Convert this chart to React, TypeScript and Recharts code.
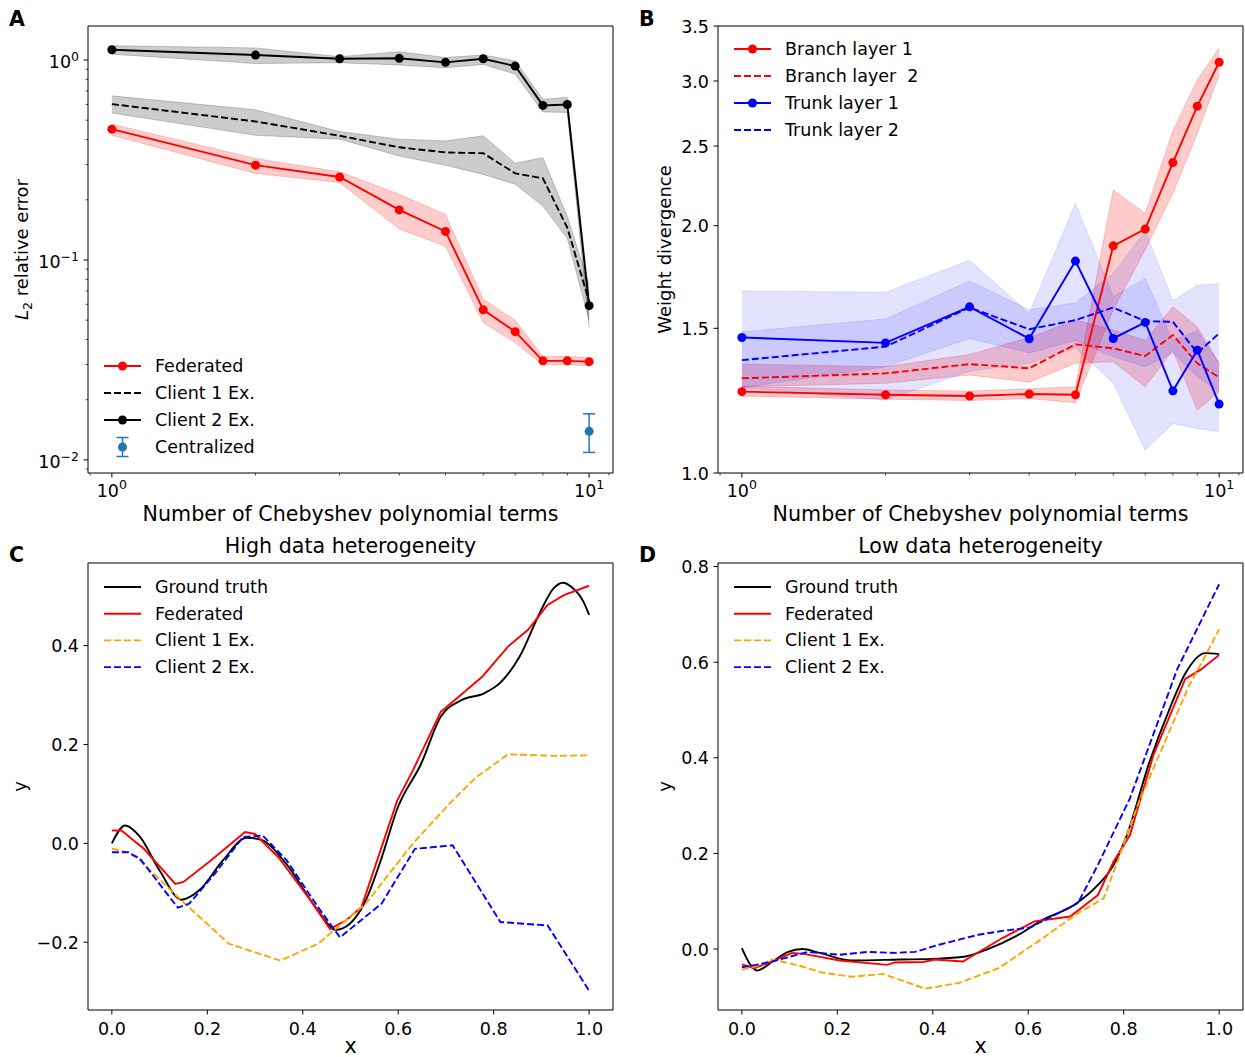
import React from 'react';
import {
  ComposedChart,
  LineChart,
  Line,
  Area,
  XAxis,
  YAxis,
  Scatter,
  ErrorBar,
  Legend,
  ReferenceLine,
} from 'recharts';

const FONT = '"DejaVu Sans", Verdana, sans-serif';
const TICK_FS = 17.5;
const LABEL_FS = 20.6;
const YLABEL_FS = 18;

// ---------------- Panel A: L2 relative error ----------------
const nTerms = [1, 2, 3, 4, 5, 6, 7, 8, 9, 10];
const fedErr = [0.451, 0.298, 0.26, 0.178, 0.139, 0.0563, 0.0438, 0.0313, 0.0313, 0.031];
const fedErrLo = [0.42, 0.271, 0.244, 0.143, 0.117, 0.0486, 0.0385, 0.0299, 0.0299, 0.0296];
const fedErrHi = [0.478, 0.322, 0.276, 0.213, 0.169, 0.0636, 0.0499, 0.0329, 0.0329, 0.0325];
const c1Err = [0.602, 0.493, 0.418, 0.366, 0.345, 0.342, 0.271, 0.256, 0.145, 0.062];
const c1ErrLo = [0.543, 0.42, 0.402, 0.331, 0.298, 0.268, 0.239, 0.186, 0.128, 0.05];
const c1ErrHi = [0.662, 0.564, 0.439, 0.402, 0.394, 0.418, 0.305, 0.325, 0.165, 0.075];
const c2Err = [1.126, 1.059, 1.015, 1.02, 0.974, 1.015, 0.933, 0.593, 0.599, 0.0591];
const c2ErrLo = [1.07, 0.96, 0.97, 0.944, 0.915, 0.95, 0.85, 0.55, 0.547, 0.046];
const c2ErrHi = [1.18, 1.15, 1.04, 1.1, 1.03, 1.06, 0.99, 0.637, 0.65, 0.066];
const cenN = [10];
const cenVal = [0.0139];
const cenLo = [0.0109];
const cenHi = [0.017];

// ---------------- Panel B: weight divergence ----------------
const br1 = [1.256, 1.245, 1.241, 1.248, 1.245, 1.89, 1.981, 2.387, 2.796, 3.162];
const br1Lo = [1.24, 1.23, 1.225, 1.232, 1.218, 1.58, 1.87, 2.19, 2.59, 3.05];
const br1Hi = [1.275, 1.262, 1.258, 1.266, 1.273, 2.21, 2.07, 2.61, 3.01, 3.29];
const br2 = [1.304, 1.322, 1.357, 1.341, 1.434, 1.418, 1.388, 1.472, 1.36, 1.307];
const br2Lo = [1.273, 1.286, 1.316, 1.29, 1.36, 1.366, 1.273, 1.411, 1.193, 1.256];
const br2Hi = [1.357, 1.347, 1.394, 1.462, 1.535, 1.493, 1.45, 1.593, 1.507, 1.36];
const tr1 = [1.462, 1.44, 1.593, 1.457, 1.811, 1.458, 1.525, 1.259, 1.411, 1.213];
const tr1Lo = [1.27, 1.227, 1.33, 1.36, 1.42, 1.286, 1.066, 1.149, 1.133, 1.123];
const tr1Hi = [1.665, 1.66, 1.815, 1.564, 2.13, 1.64, 1.725, 1.45, 1.49, 1.36];
const tr2 = [1.372, 1.425, 1.59, 1.496, 1.535, 1.59, 1.53, 1.528, 1.4, 1.479];
const tr2Lo = [1.27, 1.347, 1.458, 1.4, 1.45, 1.385, 1.347, 1.4, 1.31, 1.256];
const tr2Hi = [1.485, 1.54, 1.713, 1.58, 1.61, 1.75, 1.97, 1.62, 1.693, 1.7];

// ---------------- Panel C: high heterogeneity ----------------
const gtCX = [0, 0.028, 0.059, 0.1, 0.146, 0.183, 0.233, 0.283, 0.316, 0.365, 0.432, 0.469, 0.498, 0.532, 0.565, 0.598, 0.648, 0.689, 0.731, 0.781, 0.814, 0.855, 0.897, 0.925, 0.945, 0.965, 0.988, 1.0];
const gtCY = [0, 0.036, 0.013, -0.055, -0.114, -0.095, -0.034, 0.0115, 0.006, -0.041, -0.136, -0.175, -0.163, -0.115, -0.03, 0.07, 0.161, 0.256, 0.289, 0.304, 0.325, 0.379, 0.467, 0.515, 0.527, 0.517, 0.489, 0.462];
const fedCX = [0, 0.02, 0.067, 0.133, 0.15, 0.208, 0.279, 0.3, 0.349, 0.416, 0.457, 0.49, 0.523, 0.598, 0.631, 0.689, 0.731, 0.776, 0.83, 0.872, 0.913, 0.947, 1.0];
const fedCY = [0.026, 0.026, -0.011, -0.082, -0.078, -0.034, 0.023, 0.019, -0.028, -0.115, -0.173, -0.156, -0.129, 0.087, 0.148, 0.266, 0.3, 0.337, 0.398, 0.432, 0.482, 0.502, 0.521];
const c1CX = [0, 0.034, 0.055, 0.142, 0.245, 0.353, 0.432, 0.49, 0.532, 0.631, 0.714, 0.764, 0.83, 0.93, 1.0];
const c1CY = [-0.011, -0.018, -0.031, -0.112, -0.203, -0.237, -0.203, -0.156, -0.122, 0.0, 0.087, 0.134, 0.18, 0.177, 0.178];
const c2CX = [0, 0.034, 0.059, 0.138, 0.162, 0.216, 0.275, 0.316, 0.366, 0.432, 0.478, 0.565, 0.635, 0.714, 0.814, 0.913, 1.0];
const c2CY = [-0.018, -0.018, -0.031, -0.13, -0.122, -0.061, 0.013, 0.016, -0.034, -0.129, -0.19, -0.122, -0.011, -0.004, -0.159, -0.166, -0.298];

// ---------------- Panel D: low heterogeneity ----------------
const gtDX = [0, 0.018, 0.032, 0.064, 0.097, 0.126, 0.163, 0.23, 0.33, 0.413, 0.471, 0.513, 0.58, 0.63, 0.696, 0.746, 0.779, 0.804, 0.854, 0.896, 0.93, 0.971, 1.0];
const gtDY = [0.002, -0.033, -0.045, -0.026, -0.006, 0.0, -0.008, -0.024, -0.022, -0.02, -0.015, -0.001, 0.03, 0.061, 0.092, 0.134, 0.176, 0.231, 0.391, 0.502, 0.578, 0.619, 0.617];
const fedDX = [0, 0.026, 0.064, 0.105, 0.13, 0.205, 0.305, 0.32, 0.38, 0.405, 0.463, 0.546, 0.613, 0.688, 0.746, 0.779, 0.813, 0.862, 0.929, 0.962, 1.0];
const fedDY = [-0.032, -0.04, -0.026, -0.008, -0.01, -0.024, -0.033, -0.028, -0.027, -0.022, -0.026, 0.023, 0.058, 0.068, 0.113, 0.183, 0.238, 0.405, 0.565, 0.585, 0.615];
const c1DX = [0, 0.03, 0.064, 0.114, 0.172, 0.23, 0.296, 0.33, 0.384, 0.455, 0.538, 0.621, 0.704, 0.758, 0.787, 0.829, 0.862, 0.937, 0.971, 1.0];
const c1DY = [-0.043, -0.036, -0.022, -0.033, -0.05, -0.058, -0.052, -0.064, -0.083, -0.071, -0.04, 0.016, 0.075, 0.106, 0.183, 0.3, 0.377, 0.551, 0.613, 0.669];
const c2DX = [0, 0.03, 0.064, 0.138, 0.205, 0.263, 0.321, 0.363, 0.413, 0.496, 0.546, 0.604, 0.704, 0.746, 0.813, 0.912, 1.0];
const c2DY = [-0.038, -0.033, -0.026, -0.006, -0.012, -0.006, -0.008, -0.006, 0.009, 0.03, 0.038, 0.045, 0.096, 0.176, 0.315, 0.585, 0.763];

// ---------------- Ticks ----------------
const logXTicks = [0.9, 1, 2, 3, 4, 5, 6, 7, 8, 9, 10, 11];
const aYTicks = [0.009, 0.01, 0.02, 0.03, 0.04, 0.05, 0.06, 0.07, 0.08, 0.09, 0.1, 0.2, 0.3, 0.4, 0.5, 0.6, 0.7, 0.8, 0.9, 1];
const bYTicks = [1, 1.5, 2, 2.5, 3, 3.5];
const linXTicks = [0, 0.2, 0.4, 0.6, 0.8, 1.0];
const cYTicks = [-0.2, 0, 0.2, 0.4];
const dYTicks = [0, 0.2, 0.4, 0.6, 0.8];

// ---------------- Domains ----------------
const logXDomain = [Math.pow(10, -0.05), Math.pow(10, 1.05)];
const aYDomain = [0.0086, 1.48];
const bYDomain = [1, 3.5];
const linXDomain = [-0.05, 1.05];
const cYDomain = [-0.337, 0.567];
const dYDomain = [-0.1275, 0.8075];

// ---------------- Rows ----------------
const aRows = nTerms.map((n, i) => ({
  n,
  fed: fedErr[i],
  fedBand: [fedErrLo[i], fedErrHi[i]],
  c1: c1Err[i],
  c1Band: [c1ErrLo[i], c1ErrHi[i]],
  c2: c2Err[i],
  c2Band: [c2ErrLo[i], c2ErrHi[i]],
}));
const cenRows = cenN.map((n, i) => ({ n, c: cenVal[i], err: [cenVal[i] - cenLo[i], cenHi[i] - cenVal[i]] }));

const bRows = nTerms.map((n, i) => ({
  n,
  br1: br1[i],
  br1Band: [br1Lo[i], br1Hi[i]],
  br2: br2[i],
  br2Band: [br2Lo[i], br2Hi[i]],
  tr1: tr1[i],
  tr1Band: [tr1Lo[i], tr1Hi[i]],
  tr2: tr2[i],
  tr2Band: [tr2Lo[i], tr2Hi[i]],
}));

const zip = (xs: number[], ys: number[]) => xs.map((x, i) => ({ x, y: ys[i] }));

// ---------------- Tick renderers ----------------
const isDecade = (v: number) => {
  const e = Math.log10(v);
  return Math.abs(e - Math.round(e)) < 1e-6;
};
const sup = (e: number) => (e < 0 ? '\u2212' : '') + Math.abs(e);
const fmt1 = (v: number) => (v < -1e-9 ? '\u2212' : '') + Math.abs(v).toFixed(1);

function LogXTick(props: any) {
  const { x, y, payload } = props;
  const v = payload.value;
  const major = isDecade(v);
  return (
    <g>
      <line x1={x} x2={x} y1={y} y2={y + (major ? 4.5 : 2.5)} stroke="#000" strokeWidth={major ? 1 : 0.7} />
      {major && (
        <text x={x} y={y + 24} textAnchor="middle" fontFamily={FONT} fontSize={TICK_FS} fill="#000">
          10
          <tspan dy={-8} fontSize={12.5}>
            {sup(Math.round(Math.log10(v)))}
          </tspan>
        </text>
      )}
    </g>
  );
}

function LogYTick(props: any) {
  const { x, y, payload } = props;
  const v = payload.value;
  const major = isDecade(v);
  return (
    <g>
      <line x1={x} x2={x - (major ? 4.5 : 2.5)} y1={y} y2={y} stroke="#000" strokeWidth={major ? 1 : 0.7} />
      {major && (
        <text x={x - 9} y={y + 8} textAnchor="end" fontFamily={FONT} fontSize={TICK_FS} fill="#000">
          10
          <tspan dy={-7} fontSize={12.5}>
            {sup(Math.round(Math.log10(v)))}
          </tspan>
        </text>
      )}
    </g>
  );
}

function LinXTick(props: any) {
  const { x, y, payload } = props;
  return (
    <g>
      <line x1={x} x2={x} y1={y} y2={y + 4.5} stroke="#000" strokeWidth={1} />
      <text x={x} y={y + 25} textAnchor="middle" fontFamily={FONT} fontSize={TICK_FS} fill="#000">
        {fmt1(payload.value)}
      </text>
    </g>
  );
}

function LinYTick(props: any) {
  const { x, y, payload } = props;
  return (
    <g>
      <line x1={x} x2={x - 4.5} y1={y} y2={y} stroke="#000" strokeWidth={1} />
      <text x={x - 9} y={y + 6.5} textAnchor="end" fontFamily={FONT} fontSize={TICK_FS} fill="#000">
        {fmt1(payload.value)}
      </text>
    </g>
  );
}

// ---------------- Legend ----------------
type LegItem = { label: string; color: string; dash?: boolean; marker?: boolean; err?: boolean };

function LegendBox({ items, spacing }: { items: LegItem[]; spacing: number }) {
  return (
    <svg width={240} height={items.length * spacing + 12} style={{ display: 'block', overflow: 'visible' }}>
      {items.map((it, i) => {
        const cy = 14 + i * spacing;
        return (
          <g key={i}>
            {!it.err && (
              <line
                x1={4}
                x2={41}
                y1={cy}
                y2={cy}
                stroke={it.color}
                strokeWidth={1.9}
                strokeDasharray={it.dash ? '7 3' : undefined}
              />
            )}
            {it.marker && <circle cx={22.5} cy={cy} r={4.5} fill={it.color} />}
            {it.err && (
              <g stroke={it.color} strokeWidth={1.5}>
                <line x1={22.5} x2={22.5} y1={cy - 9.5} y2={cy + 9.5} />
                <line x1={16.5} x2={28.5} y1={cy - 9.5} y2={cy - 9.5} />
                <line x1={16.5} x2={28.5} y1={cy + 9.5} y2={cy + 9.5} />
                <circle cx={22.5} cy={cy} r={4.5} fill={it.color} stroke="none" />
              </g>
            )}
            <text x={55} y={cy + 6} fontFamily={FONT} fontSize={TICK_FS} fill="#000" style={{ whiteSpace: 'pre' }}>
              {it.label}
            </text>
          </g>
        );
      })}
    </svg>
  );
}

const aLegend: LegItem[] = [
  { label: 'Federated', color: 'red', marker: true },
  { label: 'Client 1 Ex.', color: 'black', dash: true },
  { label: 'Client 2 Ex.', color: 'black', marker: true },
  { label: 'Centralized', color: '#1f77b4', err: true },
];
const bLegend: LegItem[] = [
  { label: 'Branch layer 1', color: 'red', marker: true },
  { label: 'Branch layer \u00a02', color: 'red', dash: true },
  { label: 'Trunk layer 1', color: 'blue', marker: true },
  { label: 'Trunk layer 2', color: 'blue', dash: true },
];
const cdLegend: LegItem[] = [
  { label: 'Ground truth', color: 'black' },
  { label: 'Federated', color: 'red' },
  { label: 'Client 1 Ex.', color: 'orange', dash: true },
  { label: 'Client 2 Ex.', color: 'blue', dash: true },
];

const axisLine = { stroke: '#000', strokeWidth: 1 };

function bandArea(key: string, color: string, opacity: number) {
  return (
    <Area
      key={key}
      type="linear"
      dataKey={key}
      stroke={color}
      strokeOpacity={opacity}
      strokeWidth={1}
      fill={color}
      fillOpacity={opacity}
      dot={false}
      activeDot={false}
      isAnimationActive={false}
      legendType="none"
    />
  );
}

function PanelA() {
  return (
    <ComposedChart width={620} height={530} data={aRows} margin={{ top: 26, right: 7, bottom: 27, left: 28 }}>
      <XAxis
        dataKey="n"
        type="number"
        scale="log"
        domain={logXDomain}
        allowDataOverflow
        ticks={logXTicks}
        interval={0}
        tickSize={0}
        tickMargin={0}
        tickLine={false}
        tick={(p: any) => <LogXTick {...p} />}
        axisLine={axisLine}
        height={30}
      />
      <YAxis
        type="number"
        scale="log"
        domain={aYDomain}
        allowDataOverflow
        ticks={aYTicks}
        interval={0}
        tickSize={0}
        tickMargin={0}
        tickLine={false}
        tick={(p: any) => <LogYTick {...p} />}
        axisLine={axisLine}
        width={60}
      />
      {bandArea('c2Band', '#000', 0.2)}
      {bandArea('c1Band', '#000', 0.2)}
      {bandArea('fedBand', 'red', 0.2)}
      <Line type="linear" dataKey="c1" stroke="#000" strokeWidth={1.9} strokeDasharray="7 3" dot={false} activeDot={false} isAnimationActive={false} />
      <Line type="linear" dataKey="c2" stroke="#000" strokeWidth={1.9} dot={{ r: 4.5, fill: '#000', stroke: 'none' }} activeDot={false} isAnimationActive={false} />
      <Line type="linear" dataKey="fed" stroke="red" strokeWidth={1.9} dot={{ r: 4.5, fill: 'red', stroke: 'none' }} activeDot={false} isAnimationActive={false} />
      <Scatter
        data={cenRows}
        dataKey="c"
        fill="#1f77b4"
        isAnimationActive={false}
        shape={(p: any) => <circle cx={p.cx} cy={p.cy} r={4.5} fill="#1f77b4" />}
      >
        <ErrorBar dataKey="err" direction="y" width={6} stroke="#1f77b4" strokeWidth={1.5} isAnimationActive={false} />
      </Scatter>
      <ReferenceLine y={aYDomain[1]} stroke="#000" strokeWidth={1} ifOverflow="visible" />
      <ReferenceLine x={logXDomain[1]} stroke="#000" strokeWidth={1} ifOverflow="visible" />
      <Legend
        layout="vertical"
        align="center"
        verticalAlign="middle"
        wrapperStyle={{ left: 100, top: 352, width: 240 }}
        content={() => <LegendBox items={aLegend} spacing={27} />}
      />
    </ComposedChart>
  );
}

function PanelB() {
  return (
    <ComposedChart width={615} height={530} data={bRows} margin={{ top: 26, right: 2, bottom: 27, left: 28 }}>
      <XAxis
        dataKey="n"
        type="number"
        scale="log"
        domain={logXDomain}
        allowDataOverflow
        ticks={logXTicks}
        interval={0}
        tickSize={0}
        tickMargin={0}
        tickLine={false}
        tick={(p: any) => <LogXTick {...p} />}
        axisLine={axisLine}
        height={30}
      />
      <YAxis
        type="number"
        scale="log"
        domain={bYDomain}
        allowDataOverflow
        ticks={bYTicks}
        interval={0}
        tickSize={0}
        tickMargin={0}
        tickLine={false}
        tick={(p: any) => <LinYTick {...p} />}
        axisLine={axisLine}
        width={60}
      />
      {bandArea('br1Band', 'red', 0.2)}
      {bandArea('br2Band', 'red', 0.2)}
      {bandArea('tr1Band', 'blue', 0.11)}
      {bandArea('tr2Band', 'blue', 0.11)}
      <Line type="linear" dataKey="br1" stroke="red" strokeWidth={1.9} dot={{ r: 4.5, fill: 'red', stroke: 'none' }} activeDot={false} isAnimationActive={false} />
      <Line type="linear" dataKey="br2" stroke="red" strokeWidth={1.9} strokeDasharray="7 3" dot={false} activeDot={false} isAnimationActive={false} />
      <Line type="linear" dataKey="tr1" stroke="blue" strokeWidth={1.9} dot={{ r: 4.5, fill: 'blue', stroke: 'none' }} activeDot={false} isAnimationActive={false} />
      <Line type="linear" dataKey="tr2" stroke="blue" strokeWidth={1.9} strokeDasharray="7 3" dot={false} activeDot={false} isAnimationActive={false} />
      <ReferenceLine y={bYDomain[1]} stroke="#000" strokeWidth={1} ifOverflow="visible" />
      <ReferenceLine x={logXDomain[1]} stroke="#000" strokeWidth={1} ifOverflow="visible" />
      <Legend
        layout="vertical"
        align="center"
        verticalAlign="middle"
        wrapperStyle={{ left: 100, top: 35, width: 240 }}
        content={() => <LegendBox items={bLegend} spacing={27} />}
      />
    </ComposedChart>
  );
}

function PanelCurves({
  width,
  yDomain,
  yTicks,
  right,
  series,
}: {
  width: number;
  yDomain: number[];
  yTicks: number[];
  right: number;
  series: { data: { x: number; y: number }[]; color: string; dash?: boolean; smooth?: boolean }[];
}) {
  return (
    <LineChart width={width} height={527} margin={{ top: 33, right, bottom: 17, left: 28 }}>
      <XAxis
        dataKey="x"
        type="number"
        domain={linXDomain}
        allowDataOverflow
        ticks={linXTicks}
        interval={0}
        tickSize={0}
        tickMargin={0}
        tickLine={false}
        tick={(p: any) => <LinXTick {...p} />}
        axisLine={axisLine}
        height={30}
      />
      <YAxis
        type="number"
        domain={yDomain}
        allowDataOverflow
        ticks={yTicks}
        interval={0}
        tickSize={0}
        tickMargin={0}
        tickLine={false}
        tick={(p: any) => <LinYTick {...p} />}
        axisLine={axisLine}
        width={60}
      />
      {series.map((s, i) => (
        <Line
          key={i}
          data={s.data}
          dataKey="y"
          type={s.smooth ? 'monotone' : 'linear'}
          stroke={s.color}
          strokeWidth={1.9}
          strokeDasharray={s.dash ? '7 3' : undefined}
          dot={false}
          activeDot={false}
          isAnimationActive={false}
        />
      ))}
      <ReferenceLine y={yDomain[1]} stroke="#000" strokeWidth={1} ifOverflow="visible" />
      <ReferenceLine x={linXDomain[1]} stroke="#000" strokeWidth={1} ifOverflow="visible" />
      <Legend
        layout="vertical"
        align="center"
        verticalAlign="middle"
        wrapperStyle={{ left: 100, top: 43, width: 240 }}
        content={() => <LegendBox items={cdLegend} spacing={26.7} />}
      />
    </LineChart>
  );
}

const cSeries = [
  { data: zip(gtCX, gtCY), color: '#000', smooth: true },
  { data: zip(fedCX, fedCY), color: 'red' },
  { data: zip(c1CX, c1CY), color: 'orange', dash: true },
  { data: zip(c2CX, c2CY), color: 'blue', dash: true },
];
const dSeries = [
  { data: zip(gtDX, gtDY), color: '#000', smooth: true },
  { data: zip(fedDX, fedDY), color: 'red' },
  { data: zip(c1DX, c1DY), color: 'orange', dash: true },
  { data: zip(c2DX, c2DY), color: 'blue', dash: true },
];

function Overlay() {
  const t = { fontFamily: FONT, fill: '#000' } as const;
  return (
    <svg width={1245} height={1057} style={{ position: 'absolute', left: 0, top: 0, pointerEvents: 'none' }}>
      <text x={9} y={26} fontSize={20.5} fontWeight="bold" {...t}>A</text>
      <text x={639} y={26} fontSize={20.5} fontWeight="bold" {...t}>B</text>
      <text x={9} y={562} fontSize={20.5} fontWeight="bold" {...t}>C</text>
      <text x={639} y={562} fontSize={20.5} fontWeight="bold" {...t}>D</text>

      <text x={350.5} y={521} fontSize={LABEL_FS} textAnchor="middle" {...t}>Number of Chebyshev polynomial terms</text>
      <text x={980.5} y={521} fontSize={LABEL_FS} textAnchor="middle" {...t}>Number of Chebyshev polynomial terms</text>
      <text x={350.5} y={1053} fontSize={LABEL_FS} textAnchor="middle" {...t}>x</text>
      <text x={980.5} y={1053} fontSize={LABEL_FS} textAnchor="middle" {...t}>x</text>

      <text x={350.5} y={553} fontSize={LABEL_FS} textAnchor="middle" {...t}>High data heterogeneity</text>
      <text x={980.5} y={553} fontSize={LABEL_FS} textAnchor="middle" {...t}>Low data heterogeneity</text>

      <text x={28} y={249.5} fontSize={YLABEL_FS} textAnchor="middle" transform="rotate(-90 28 249.5)" {...t}>
        <tspan fontStyle="italic">L</tspan>
        <tspan dy={4} fontSize={12.5}>2</tspan>
        <tspan dy={-4}> relative error</tspan>
      </text>
      <text x={671} y={249.5} fontSize={YLABEL_FS} textAnchor="middle" transform="rotate(-90 671 249.5)" {...t}>Weight divergence</text>
      <text x={26} y={786.5} fontSize={YLABEL_FS} textAnchor="middle" transform="rotate(-90 26 786.5)" {...t}>y</text>
      <text x={671} y={786.5} fontSize={YLABEL_FS} textAnchor="middle" transform="rotate(-90 671 786.5)" {...t}>y</text>
    </svg>
  );
}

export default function App() {
  return (
    <div style={{ position: 'absolute', left: 0, top: 0, width: 1245, height: 1057, background: '#fff', fontFamily: FONT }}>
      <div style={{ position: 'absolute', left: 0, top: 0 }}>
        <PanelA />
      </div>
      <div style={{ position: 'absolute', left: 630, top: 0 }}>
        <PanelB />
      </div>
      <div style={{ position: 'absolute', left: 0, top: 530 }}>
        <PanelCurves width={620} yDomain={cYDomain} yTicks={cYTicks} right={7} series={cSeries} />
      </div>
      <div style={{ position: 'absolute', left: 630, top: 530 }}>
        <PanelCurves width={615} yDomain={dYDomain} yTicks={dYTicks} right={2} series={dSeries} />
      </div>
      <Overlay />
    </div>
  );
}
